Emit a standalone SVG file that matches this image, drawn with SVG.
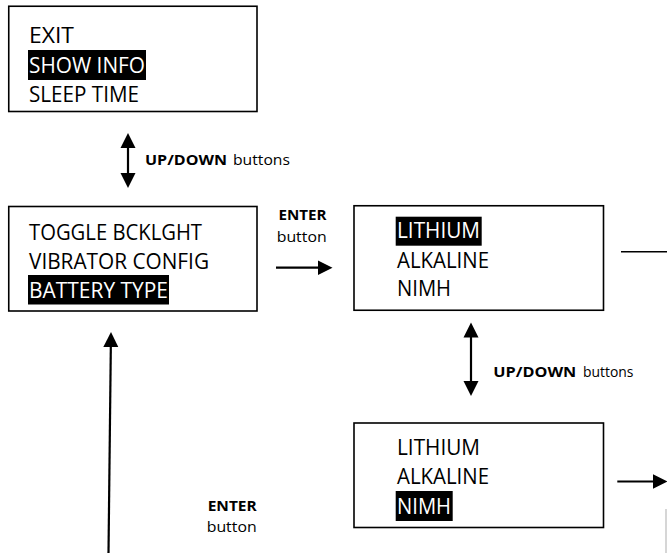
<svg xmlns="http://www.w3.org/2000/svg" width="667" height="553" viewBox="0 0 667 553">
<style>
.box{fill:#fff;stroke:#000;stroke-width:1.6}
.t{font-family:"Open Sans","Noto Sans",sans-serif;font-size:21.5px;fill:#000}
.hl{fill:#000}
.w{fill:#fff}
.s{font-family:"Open Sans","Noto Sans",sans-serif;font-size:15px;fill:#000}
.b{font-weight:bold}
.c{stroke:#000;stroke-width:2.2;fill:none}
</style>
<defs>
<marker id="ah" markerUnits="userSpaceOnUse" markerWidth="16" markerHeight="16" refX="7" refY="7.5" orient="auto-start-reverse" viewBox="0 0 16 15">
<path d="M0,0 L15,7.5 L0,15 z" fill="#000"/>
</marker>
</defs>
<g id="menu-top">
<rect class="box" x="8.75" y="6.25" width="248.25" height="105.25"/>
<text class="t" x="29" y="43" textLength="45" lengthAdjust="spacingAndGlyphs">EXIT</text>
<rect class="hl" x="28" y="50" width="118" height="30"/>
<text class="t w" x="29" y="72.5" textLength="116" lengthAdjust="spacingAndGlyphs">SHOW INFO</text>
<text class="t" x="29" y="101.5" textLength="110" lengthAdjust="spacingAndGlyphs">SLEEP TIME</text>
</g>
<g id="menu-main">
<rect class="box" x="8.75" y="206.5" width="248.25" height="104.5"/>
<text class="t" x="29" y="240" textLength="173" lengthAdjust="spacingAndGlyphs">TOGGLE BCKLGHT</text>
<text class="t" x="29" y="269" textLength="180" lengthAdjust="spacingAndGlyphs">VIBRATOR CONFIG</text>
<rect class="hl" x="28" y="275" width="141" height="29.5"/>
<text class="t w" x="29" y="298" textLength="139" lengthAdjust="spacingAndGlyphs">BATTERY TYPE</text>
</g>
<g id="battery-lithium">
<rect class="box" x="354" y="205.75" width="249.5" height="104.5"/>
<rect class="hl" x="395.7" y="216.7" width="86" height="29"/>
<text class="t w" x="397" y="238" textLength="83" lengthAdjust="spacingAndGlyphs">LITHIUM</text>
<text class="t" x="397" y="267.5" textLength="92" lengthAdjust="spacingAndGlyphs">ALKALINE</text>
<text class="t" x="397" y="296" textLength="54" lengthAdjust="spacingAndGlyphs">NIMH</text>
</g>
<g id="battery-nimh">
<rect class="box" x="354" y="423" width="249.5" height="104.5"/>
<text class="t" x="397" y="455" textLength="83" lengthAdjust="spacingAndGlyphs">LITHIUM</text>
<text class="t" x="397" y="484" textLength="92" lengthAdjust="spacingAndGlyphs">ALKALINE</text>
<rect class="hl" x="395.7" y="491" width="57" height="30"/>
<text class="t w" x="397" y="513.5" textLength="54" lengthAdjust="spacingAndGlyphs">NIMH</text>
</g>
<g id="connectors">
<line class="c" x1="128" y1="141" x2="128" y2="180" marker-start="url(#ah)" marker-end="url(#ah)"/>
<line class="c" x1="471" y1="330.5" x2="471" y2="388" marker-start="url(#ah)" marker-end="url(#ah)"/>
<line class="c" x1="276" y1="267.7" x2="324.5" y2="267.7" marker-end="url(#ah)"/>
<line class="c" x1="617.3" y1="481.5" x2="659.5" y2="481.5" marker-end="url(#ah)"/>
<line class="c" x1="108.5" y1="553" x2="110.9" y2="340" marker-end="url(#ah)"/>
<line x1="621" y1="251.7" x2="667" y2="251.7" stroke="#000" stroke-width="1.4"/>
<line x1="666" y1="509" x2="666" y2="553" stroke="#bbb" stroke-width="1.2"/>
</g>
<g id="labels">
<text class="s b" x="145" y="164.5" textLength="82" lengthAdjust="spacingAndGlyphs">UP/DOWN</text>
<text class="s" x="233" y="164.5" textLength="57" lengthAdjust="spacingAndGlyphs">buttons</text>
<text class="s b" x="278.5" y="220" textLength="48" lengthAdjust="spacingAndGlyphs">ENTER</text>
<text class="s" x="276.7" y="241.5" textLength="50" lengthAdjust="spacingAndGlyphs">button</text>
<text class="s b" x="493.3" y="376.7" textLength="83" lengthAdjust="spacingAndGlyphs">UP/DOWN</text>
<text class="s" x="583" y="376.7" textLength="50.5" lengthAdjust="spacingAndGlyphs">buttons</text>
<text class="s b" x="207.7" y="510.7" textLength="49" lengthAdjust="spacingAndGlyphs">ENTER</text>
<text class="s" x="206.7" y="531.7" textLength="50" lengthAdjust="spacingAndGlyphs">button</text>
</g>
</svg>
